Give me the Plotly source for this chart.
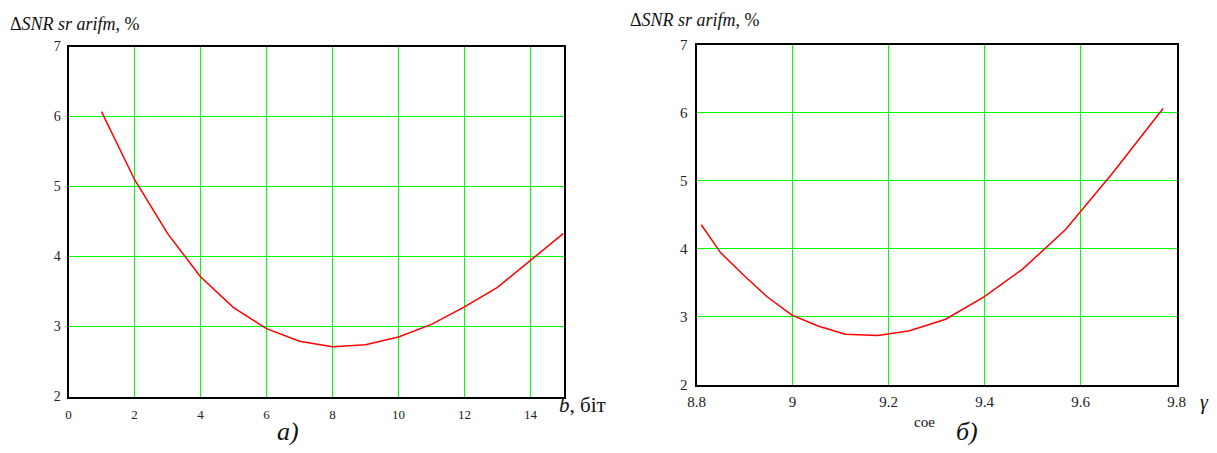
import plotly.graph_objects as go

# Left chart (а): b, bits
b_bits = [1, 2, 3, 4, 5, 6, 7, 8, 9, 10, 11, 12, 13, 14, 15]
snr_a = [6.07, 5.10, 4.33, 3.71, 3.27, 2.97, 2.79, 2.71, 2.74, 2.85, 3.03, 3.28, 3.56, 3.94, 4.33]

# Right chart (б): gamma
gamma = [8.810, 8.850, 8.898, 8.947, 8.999, 9.053, 9.110, 9.178, 9.244, 9.319, 9.399, 9.480, 9.569, 9.667, 9.772]
snr_b = [4.35, 3.94, 3.61, 3.29, 3.02, 2.86, 2.74, 2.72, 2.79, 2.96, 3.29, 3.70, 4.28, 5.11, 6.06]

x_ticks_a = [0, 2, 4, 6, 8, 10, 12, 14]
x_ticks_b = [8.8, 9.0, 9.2, 9.4, 9.6, 9.8]
x_ticktext_b = ["8.8", "9", "9.2", "9.4", "9.6", "9.8"]
y_ticks = [2, 3, 4, 5, 6, 7]

# page body has an 8px margin: figure kept inside the window
W, H = 1201, 437
OFF = 8
SERIF = "Liberation Serif"

def fx(sx):  # screenshot x -> paper fraction
    return (sx - OFF) / W

def fy(sy):  # screenshot y -> paper fraction
    return 1 - (sy - OFF) / H

fig = go.Figure()
fig.add_trace(go.Scatter(x=b_bits, y=snr_a, mode="lines",
                         line=dict(color="#ff0000", width=1.5),
                         xaxis="x", yaxis="y", showlegend=False, hoverinfo="skip"))
fig.add_trace(go.Scatter(x=gamma, y=snr_b, mode="lines",
                         line=dict(color="#ff0000", width=1.5),
                         xaxis="x2", yaxis="y2", showlegend=False, hoverinfo="skip"))

def xax(size, ticklen):
    return dict(showgrid=True, gridcolor="#00ff00", gridwidth=1,
                showline=True, linecolor="#000000", linewidth=1.5, mirror=True,
                zeroline=False, ticks="outside", ticklen=ticklen,
                tickcolor="rgba(0,0,0,0)", fixedrange=True, automargin=False,
                tickfont=dict(family=SERIF, size=size, color="#222222"))

def yax(size, ticklen):
    return dict(showgrid=True, gridcolor="#00ff00", gridwidth=1,
                showline=True, linecolor="#000000", linewidth=2, mirror=True,
                zeroline=False, ticks="outside", ticklen=ticklen,
                tickcolor="rgba(0,0,0,0)", fixedrange=True, automargin=False,
                tickfont=dict(family=SERIF, size=size, color="#222222"))

# plot-area edges (screen px), chosen so grid lines fall on whole pixels
AX_L, AX_R = 68.5, 68.5 + 15 * 33
AY_T, AY_B = 46.5, 46.5 + 5 * 70
BX_L, BX_R = 696.5, 696.5 + 480
BY_T, BY_B = 44.5, 44.5 + 5 * 68

fig.update_layout(
    width=W, height=H, autosize=False,
    margin=dict(l=0, r=0, t=0, b=0, autoexpand=False),
    font=dict(family=SERIF, color="#111111"),
    paper_bgcolor="white", plot_bgcolor="white",
    xaxis=dict(domain=[fx(AX_L), fx(AX_R)], range=[0, 15],
               tickvals=x_ticks_a, anchor="y", **xax(13, 5)),
    yaxis=dict(domain=[fy(AY_B), fy(AY_T)], range=[2, 7],
               tickvals=y_ticks, anchor="x", **yax(14, 3)),
    xaxis2=dict(domain=[fx(BX_L), fx(BX_R)], range=[8.8, 9.8],
                tickvals=x_ticks_b, ticktext=x_ticktext_b, anchor="y2", **xax(15, 3)),
    yaxis2=dict(domain=[fy(BY_B), fy(BY_T)], range=[2, 7],
                tickvals=y_ticks, anchor="x2", **yax(15, 4)),
)

def ann(text, sx, sy, size, xanchor="left"):
    fig.add_annotation(text=text, x=fx(sx), y=fy(sy), xref="paper", yref="paper",
                       showarrow=False, xanchor=xanchor, yanchor="top",
                       font=dict(family=SERIF, size=size, color="#111111"))

# (text, x, box-top y in screenshot pixels)
ann("Δ<i>SNR sr arifm</i>, %", 8, 12, 18)
ann("Δ<i>SNR sr arifm</i>, %", 628, 8, 18)
ann("<i>b</i>, біт", 557, 391, 21)
ann("<i>γ</i>", 1211, 389, 20, xanchor="right")
ann("<i>а)</i>", 288, 415, 26, xanchor="center")
ann("<i>б)</i>", 967, 415, 26, xanchor="center")
ann("coe", 924, 412, 15, xanchor="center")

fig.write_html("out.html", config={"displayModeBar": False})
